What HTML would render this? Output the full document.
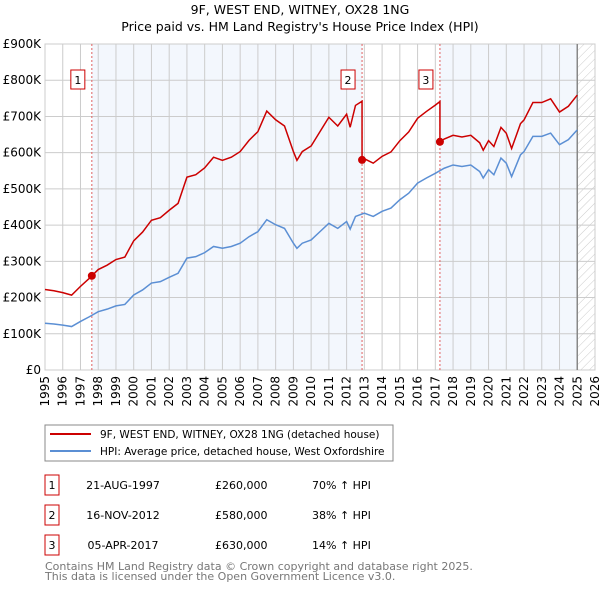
<!DOCTYPE html>
<html><head><meta charset="utf-8"><style>
body{margin:0;background:#fff;font-family:"Liberation Sans","DejaVu Sans",sans-serif;}
svg text{font-family:"DejaVu Sans","Liberation Sans",sans-serif;}
</style></head><body>
<svg id="chart" width="600" height="590" xmlns="http://www.w3.org/2000/svg">
<defs><pattern id="hatch" patternUnits="userSpaceOnUse" width="6" height="6" patternTransform="rotate(45)"><line x1="0" y1="0" x2="0" y2="6" stroke="#ccc" stroke-width="1"/></pattern></defs>
<text x="300" y="14" text-anchor="middle" font-size="12.5">9F, WEST END, WITNEY, OX28 1NG</text>
<text x="300" y="31" text-anchor="middle" font-size="12.5">Price paid vs. HM Land Registry's House Price Index (HPI)</text>
<g id="plot"></g>
<g>
<rect x="45" y="425" width="348" height="36" fill="#fff" stroke="#888"/>
<line x1="50" y1="434" x2="91" y2="434" stroke="#cc0000" stroke-width="2"/>
<text x="100" y="438" font-size="10.5">9F, WEST END, WITNEY, OX28 1NG (detached house)</text>
<line x1="50" y1="451" x2="91" y2="451" stroke="#5b8fd4" stroke-width="2"/>
<text x="100" y="455" font-size="10.5">HPI: Average price, detached house, West Oxfordshire</text>
</g>
<g id="table" font-size="11"></g>
<text x="45" y="570" font-size="11" fill="#777">Contains HM Land Registry data © Crown copyright and database right 2025.</text>
<text x="45" y="580" font-size="11" fill="#777">This data is licensed under the Open Government Licence v3.0.</text>
</svg>
<script>
const hpiYears=[1995,1995.5,1996,1996.5,1997,1997.5,1998,1998.5,1999,1999.5,2000,2000.5,2001,2001.5,2002,2002.5,2003,2003.5,2004,2004.5,2005,2005.5,2006,2006.5,2007,2007.5,2008,2008.5,2009,2009.2,2009.5,2010,2010.5,2011,2011.5,2012,2012.2,2012.5,2013,2013.5,2014,2014.5,2015,2015.5,2016,2016.5,2017,2017.5,2018,2018.5,2019,2019.5,2019.7,2020,2020.3,2020.7,2021,2021.3,2021.8,2022,2022.5,2023,2023.5,2024,2024.5,2025];
const hpiValues=[129,127,124,120,134,147,161,168,177,181,207,221,240,244,256,267,309,313,324,341,336,341,350,368,382,415,401,391,350,336,350,359,382,405,391,410,389,424,433,424,438,447,470,488,516,530,543,557,566,562,566,548,530,553,539,585,571,534,594,603,645,645,654,622,636,663];
const saleYears=[1997.64,2012.87,2017.26];
const salePrices=[260000,580000,630000];
const saleDates=["21-AUG-1997","16-NOV-2012","05-APR-2017"];
const saleDiff=["70% ↑ HPI","38% ↑ HPI","14% ↑ HPI"];
const yTicks=[0,100,200,300,400,500,600,700,800,900];
const yLabels=["£0","£100K","£200K","£300K","£400K","£500K","£600K","£700K","£800K","£900K"];
const xTicks=[1995,1996,1997,1998,1999,2000,2001,2002,2003,2004,2005,2006,2007,2008,2009,2010,2011,2012,2013,2014,2015,2016,2017,2018,2019,2020,2021,2022,2023,2024,2025,2026];
const X0=45,X1=595,Y0=370,Y1=44;
const x=t=>X0+(t-1995)/(2026-1995)*(X1-X0);
const y=v=>Y0-v/900*(Y0-Y1);
const NS="http://www.w3.org/2000/svg";
function mk(tag,attrs,parent){const e=document.createElementNS(NS,tag);for(const k in attrs)e.setAttribute(k,attrs[k]);parent.appendChild(e);return e;}
const plot=document.getElementById('plot');
const hpiAt=t=>{for(let i=1;i<hpiYears.length;i++){if(t<=hpiYears[i]){const f=(t-hpiYears[i-1])/(hpiYears[i]-hpiYears[i-1]);return hpiValues[i-1]+f*(hpiValues[i]-hpiValues[i-1]);}}return hpiValues[hpiValues.length-1];};
let r=mk('rect',{x:x(saleYears[0]),y:Y1,width:x(saleYears[1])-x(saleYears[0]),height:Y0-Y1,fill:'#eef3fc',opacity:0.7},plot);

r=mk('rect',{x:x(saleYears[2]),y:Y1,width:x(2025.0)-x(saleYears[2]),height:Y0-Y1,fill:'#eef3fc',opacity:0.7},plot);

r=mk('rect',{x:x(2025.0),y:Y1,width:X1-x(2025.0),height:Y0-Y1,fill:'url(#hatch)'},plot);

xTicks.forEach(t=>{const l=mk('line',{x1:x(t),x2:x(t),y1:Y1,y2:Y0,stroke:'#ccc'},plot);
const tx=mk('text',{x:0,y:0,'font-size':12,'text-anchor':'end',transform:`translate(${x(t)+4},${Y0+6}) rotate(-90)`},plot);tx.textContent=t;});
yTicks.forEach((v,i)=>{const l=mk('line',{x1:X0,x2:X1,y1:y(v),y2:y(v),stroke:'#ccc'},plot);
const tx=mk('text',{x:41,y:y(v)+4,'font-size':12,'text-anchor':'end'},plot);tx.textContent=yLabels[i];});
let fr=mk('rect',{x:X0,y:Y1,width:X1-X0,height:Y0-Y1,fill:'none',stroke:'#ccc'},plot);
let nl=mk('line',{x1:x(2025),x2:x(2025),y1:Y1,y2:Y0,stroke:'#888','stroke-width':1.5},plot);
saleYears.forEach((t,i)=>{const l=mk('line',{x1:x(t),x2:x(t),y1:Y1,y2:Y0,stroke:'#e06060','stroke-dasharray':'2,2'},plot);
const b=mk('rect',{x:x(t)-21,y:70,width:14,height:19,fill:'#fff',stroke:'#cc0000'},plot);
const tx=mk('text',{x:x(t)-14,y:84,'font-size':11,'text-anchor':'middle'},plot);tx.textContent=i+1;});
let pts=hpiYears.map((t,i)=>x(t)+','+y(hpiValues[i])).join(' ');
let pl=mk('polyline',{points:pts,fill:'none',stroke:'#5b8fd4','stroke-width':1.5},plot);
const ratio=i=>salePrices[i]/1000/hpiAt(saleYears[i]);
const redPts=[];
const all=[...hpiYears,...saleYears].sort((a,b)=>a-b);
all.forEach(t=>{let k=0;for(let i=0;i<saleYears.length;i++)if(t>=saleYears[i])k=i;
if(saleYears.includes(t)&&saleYears.indexOf(t)>0){const j=saleYears.indexOf(t);redPts.push(x(t)+','+y(hpiAt(t)*ratio(j-1)));}
redPts.push(x(t)+','+y(hpiAt(t)*ratio(k)));});
pl=mk('polyline',{points:redPts.join(' '),fill:'none',stroke:'#cc0000','stroke-width':1.5},plot);
saleYears.forEach((t,i)=>{const c=mk('circle',{cx:x(t),cy:y(salePrices[i]/1000),r:4,fill:'#cc0000'},plot);});
const tb=document.getElementById('table');
saleYears.forEach((t,i)=>{const yy=475+i*30;
const b=mk('rect',{x:45,y:yy,width:14,height:20,fill:'#fff',stroke:'#cc0000'},tb);
let tx=mk('text',{x:52,y:yy+14,'text-anchor':'middle'},tb);tx.textContent=i+1;
tx=mk('text',{x:123,y:yy+14,'text-anchor':'middle'},tb);tx.textContent=saleDates[i];
tx=mk('text',{x:215,y:yy+14},tb);tx.textContent='£'+salePrices[i].toLocaleString('en-GB');
tx=mk('text',{x:312,y:yy+14},tb);tx.textContent=saleDiff[i];});
</script>
</body></html>
